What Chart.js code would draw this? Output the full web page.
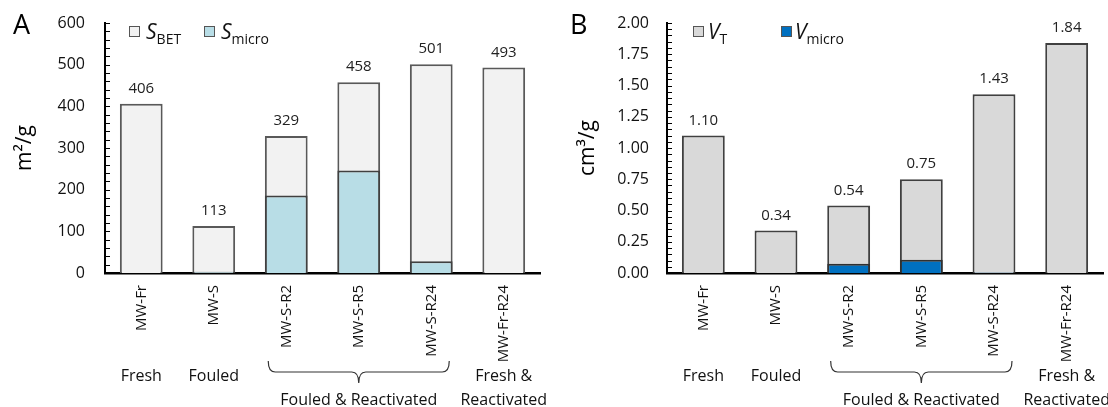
<!DOCTYPE html>
<html><head><meta charset="utf-8">
<script src="https://cdn.jsdelivr.net/npm/chart.js@4/dist/chart.umd.min.js"></script>
<style>
html,body{margin:0;padding:0;background:#fff;}
body{width:1108px;height:407px;position:relative;overflow:hidden;font-family:"Open Sans",sans-serif;color:#111;}
.panel{position:absolute;top:0;width:554px;height:407px;}
canvas{position:absolute;left:0;top:0;}
.letter{position:absolute;font-size:27px;line-height:1;color:#000;}
.leg{position:absolute;white-space:nowrap;font-size:21px;line-height:1;}
.box{position:absolute;width:9px;height:9px;border:1.5px solid #555;}
.leg i{font-style:italic;}
.leg sub{font-size:14px;font-style:normal;vertical-align:-5px;}
</style>
</head><body>
<div class="panel" style="left:0"><canvas id="cA" width="554" height="407"></canvas></div>
<div class="panel" style="left:554px"><canvas id="cB" width="554" height="407"></canvas></div>

<div class="letter" style="left:13px;top:10px">A</div>
<div class="box" style="left:129px;top:26px;background:#f2f2f2"></div>
<div class="leg" style="left:146px;top:21px"><i>S</i><sub>BET</sub></div>
<div class="box" style="left:204px;top:26px;background:#b8dde6"></div>
<div class="leg" style="left:221px;top:21px"><i>S</i><sub>micro</sub></div>

<div class="letter" style="left:570px;top:10px">B</div>
<div class="box" style="left:693px;top:26px;background:#d9d9d9"></div>
<div class="leg" style="left:708px;top:21px"><i>V</i><sub>T</sub></div>
<div class="box" style="left:781px;top:26px;background:#0070c0"></div>
<div class="leg" style="left:795px;top:21px"><i>V</i><sub>micro</sub></div>

<script>
// ---- data ----
const categories = ['MW-Fr', 'MW-S', 'MW-S-R2', 'MW-S-R5', 'MW-S-R24', 'MW-Fr-R24'];
const sBET   = [406, 113, 329, 458, 501, 493];
const sMicro = [0, 3, 186, 246, 28, 0];
const vT     = [1.10, 0.34, 0.54, 0.75, 1.43, 1.84];
const vMicro = [0, 0, 0.075, 0.107, 0.005, 0];
const groupLines = [['Fresh'], ['Fouled'], ['Fouled & Reactivated'], ['Fresh &', 'Reactivated']];
const groupSpans = [[0, 0], [1, 1], [2, 4], [5, 5]];
const yTitleA = 'm²/g';
const yTitleB = 'cm³/g';

const FONT = '"Open Sans", sans-serif';

const valueLabels = {
  id: 'valueLabels',
  afterDatasetsDraw(chart, args, opts) {
    const ctx = chart.ctx;
    const meta = chart.getDatasetMeta(0);
    const data = chart.data.datasets[0].data;
    ctx.save();
    ctx.font = '15px ' + FONT;
    ctx.fillStyle = '#222';
    ctx.textAlign = 'center';
    ctx.textBaseline = 'alphabetic';
    meta.data.forEach((el, i) => {
      ctx.fillText(opts.fmt(data[i]), el.x, el.y - 11);
    });
    ctx.restore();
  }
};

const minorTicks = {
  id: 'minorTicks',
  afterDraw(chart, args, opts) {
    const ctx = chart.ctx;
    const y = chart.scales.y;
    const x0 = chart.chartArea.left;
    const n = Math.round(opts.max / opts.step);
    ctx.save();
    ctx.strokeStyle = '#000';
    ctx.lineWidth = 1;
    ctx.beginPath();
    for (let k = 1; k <= n; k++) {
      const py = Math.round(y.getPixelForValue(k * opts.step)) + 0.5;
      ctx.moveTo(x0, py);
      ctx.lineTo(x0 + 5, py);
    }
    ctx.stroke();
    ctx.restore();
  }
};

const groups = {
  id: 'groups',
  afterDraw(chart) {
    const ctx = chart.ctx;
    const xs = chart.scales.x;
    ctx.save();
    ctx.font = '16px ' + FONT;
    ctx.fillStyle = '#111';
    ctx.textAlign = 'center';
    ctx.textBaseline = 'middle';
    groupSpans.forEach((sp, gi) => {
      const a = xs.getPixelForValue(sp[0]);
      const b = xs.getPixelForValue(sp[1]);
      const xm = (a + b) / 2;
      if (sp[0] === sp[1]) {
        groupLines[gi].forEach((t, li) => ctx.fillText(t, xm, 376 + li * 24));
      } else {
        const x1 = a - 18, x2 = b + 18, y0 = 361, y1 = 383, ym = 372, r = 7;
        ctx.strokeStyle = '#333';
        ctx.lineWidth = 1.2;
        ctx.beginPath();
        ctx.moveTo(x1, y0);
        ctx.quadraticCurveTo(x1, ym, x1 + r, ym);
        ctx.lineTo(xm - r, ym);
        ctx.quadraticCurveTo(xm, ym, xm, y1);
        ctx.quadraticCurveTo(xm, ym, xm + r, ym);
        ctx.lineTo(x2 - r, ym);
        ctx.quadraticCurveTo(x2, ym, x2, y0);
        ctx.stroke();
        groupLines[gi].forEach((t, li) => ctx.fillText(t, xm, 400 + li * 24));
      }
    });
    ctx.restore();
  }
};

const bw = c => (c.raw > 0 ? 2 : 0);

function build(id, o) {
  return new Chart(document.getElementById(id), {
    type: 'bar',
    data: {
      labels: categories,
      datasets: [
        { label: o.totalLabel, data: o.total, backgroundColor: o.totalFill, borderColor: o.totalBorder,
          borderWidth: bw, borderSkipped: 'start', order: 1 },
        { label: o.microLabel, data: o.micro, backgroundColor: o.microFill, borderColor: o.microBorder,
          borderWidth: bw, borderSkipped: 'start', order: 0 }
      ]
    },
    options: {
      responsive: false, animation: false, devicePixelRatio: 1,
      layout: { padding: { top: 23, right: o.padRight, bottom: 0, left: 0 } },
      datasets: { bar: { grouped: false, categoryPercentage: 1, barPercentage: 0.59 } },
      plugins: {
        legend: { display: false }, tooltip: { enabled: false },
        valueLabels: { fmt: o.fmt },
        minorTicks: { step: o.minor, max: o.max }
      },
      scales: {
        x: {
          grid: { display: false, drawTicks: false },
          border: { display: true, color: '#000', width: 2.5 },
          ticks: { maxRotation: 90, minRotation: 90, padding: 12, autoSkip: false, color: '#111',
                   font: { family: FONT, size: 15 } },
          afterFit(s) { s.height = 134; s.paddingLeft = 0; s.paddingRight = 0; }
        },
        y: {
          min: 0, max: o.max,
          grid: { display: false, drawTicks: false },
          border: { display: true, color: '#000', width: 2 },
          ticks: { stepSize: o.step, padding: o.tickPad, color: '#111', font: { family: FONT, size: 16 },
                   callback: o.tickFmt },
          title: { display: true, text: o.yTitle, color: '#000', font: { family: FONT, size: 21 },
                   padding: { top: o.titlePad, bottom: 0 } },
          afterFit(s) { s.width = o.axisX; s.paddingTop = 0; s.paddingBottom = 0; }
        }
      }
    },
    plugins: [valueLabels, minorTicks, groups]
  });
}

build('cA', {
  total: sBET, micro: sMicro, totalLabel: 'S_BET', microLabel: 'S_micro',
  totalFill: '#f2f2f2', totalBorder: '#595959', microFill: '#b8dde6', microBorder: '#404040',
  max: 600, step: 100, minor: 20, fmt: v => String(v), tickFmt: v => String(v),
  axisX: 105, padRight: 14, tickPad: 20, titlePad: 12, yTitle: yTitleA
});
build('cB', {
  total: vT, micro: vMicro, totalLabel: 'V_T', microLabel: 'V_micro',
  totalFill: '#d9d9d9', totalBorder: '#404040', microFill: '#0070c0', microBorder: '#303030',
  max: 2, step: 0.25, minor: 0.05, fmt: v => v.toFixed(2), tickFmt: v => Number(v).toFixed(2),
  axisX: 113, padRight: 5, tickPad: 18, titlePad: 21, yTitle: yTitleB
});
</script>
</body></html>
